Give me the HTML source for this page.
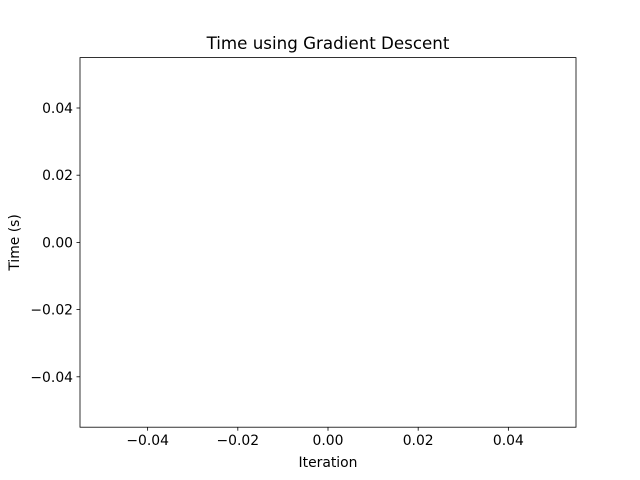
<!DOCTYPE html>
<html><head><meta charset="utf-8"><style>
body{margin:0;background:#fff}
svg{display:block;font-family:"DejaVu Sans","Liberation Sans",sans-serif}
</style></head><body>
<svg id="chart" width="640" height="480" viewBox="0 0 640 480">
<rect width="640" height="480" fill="#fff"/>
<text x="328" y="49" font-size="16.7" text-anchor="middle">Time using Gradient Descent</text>
<g id="xt"></g>
<g id="yt"></g>
<path id="series" fill="none" stroke="#1f77b4" stroke-width="1.5"/>
<rect x="80" y="57.6" width="496" height="369.6" fill="none" stroke="#000" stroke-width="0.8"/>
<text x="328" y="467" font-size="13.9" text-anchor="middle">Iteration</text>
<text transform="translate(19,242.4) rotate(-90)" font-size="13.9" text-anchor="middle">Time (s)</text>
</svg>
<script>
const iterations = [];
const times = [];
const xTicks = [-0.04, -0.02, 0.00, 0.02, 0.04];
const yTicks = [-0.04, -0.02, 0.00, 0.02, 0.04];
const xMin=-0.055,xMax=0.055,yMin=-0.055,yMax=0.055;
const L=80,R=576,T=57.6,B=427.2;
function sx(v){return L+(v-xMin)/(xMax-xMin)*(R-L);}
function sy(v){return B-(v-yMin)/(yMax-yMin)*(B-T);}
function fmt(v){return (v<0?"\u2212":"")+Math.abs(v).toFixed(2);}
const NS="http://www.w3.org/2000/svg";
const xg=document.getElementById('xt'),yg=document.getElementById('yt');
xTicks.forEach(v=>{
  const l=document.createElementNS(NS,'line');
  l.setAttribute('x1',sx(v));l.setAttribute('x2',sx(v));l.setAttribute('y1',B);l.setAttribute('y2',B+3.5);
  l.setAttribute('stroke','#000');l.setAttribute('stroke-width','0.8');
  
  
  xg.appendChild(l);
  const t=document.createElementNS(NS,'text');
  t.setAttribute('x',sx(v));t.setAttribute('y',B+18);t.setAttribute('font-size','13.9');t.setAttribute('text-anchor','middle');
  t.textContent=fmt(v);
  
  
  xg.appendChild(t);
});
yTicks.forEach(v=>{
  const l=document.createElementNS(NS,'line');
  l.setAttribute('x1',L-3.5);l.setAttribute('x2',L);l.setAttribute('y1',sy(v));l.setAttribute('y2',sy(v));
  l.setAttribute('stroke','#000');l.setAttribute('stroke-width','0.8');
  
  
  yg.appendChild(l);
  const t=document.createElementNS(NS,'text');
  t.setAttribute('x',L-7);t.setAttribute('y',sy(v)+5);t.setAttribute('font-size','13.9');t.setAttribute('text-anchor','end');
  t.textContent=fmt(v);
  
  
  yg.appendChild(t);
});
let d="";
iterations.forEach((x,i)=>{d+=(i?"L":"M")+sx(x)+","+sy(times[i]);});
if(d)document.getElementById('series').setAttribute('d',d);
</script>
</body></html>
